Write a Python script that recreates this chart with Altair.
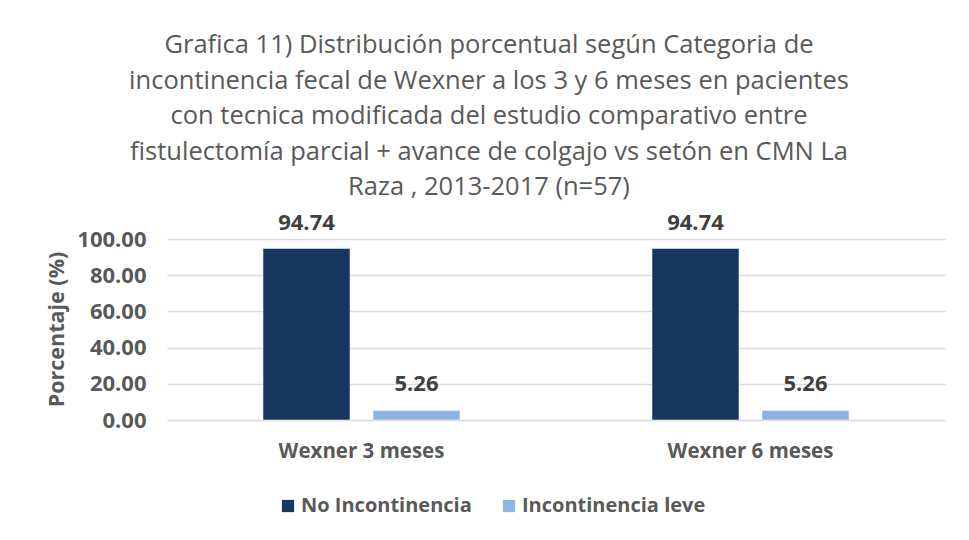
import altair as alt
import pandas as pd

categories = ["Wexner 3 meses", "Wexner 6 meses"]
series = ["No Incontinencia", "Incontinencia leve"]
values_no = [94.74, 94.74]
values_leve = [5.26, 5.26]
title_lines = [
    "Grafica 11) Distribución porcentual según Categoria de",
    "incontinencia fecal de Wexner a los 3 y 6 meses en pacientes",
    "con tecnica modificada del estudio comparativo entre",
    "fistulectomía parcial + avance de colgajo vs setón en CMN La",
    "Raza , 2013-2017 (n=57)",
]
colors = ["#17375E", "#8DB4E2"]

rows = []
for i, c in enumerate(categories):
    rows.append({"cat": c, "serie": series[0], "val": values_no[i]})
    rows.append({"cat": c, "serie": series[1], "val": values_leve[i]})
df = pd.DataFrame(rows)

FONT = "Open Sans"
GRAY = "#595959"

x_enc = alt.X("cat:N", sort=categories, title=None,
              scale=alt.Scale(paddingInner=0.4936, paddingOuter=0.2468),
              axis=alt.Axis(labelAngle=0, domain=False, ticks=False, labelPadding=21,
                            labelFont=FONT, labelFontSize=20.5, labelFontWeight="bold",
                            labelColor=GRAY))
xo_enc = alt.XOffset("serie:N", sort=series,
                     scale=alt.Scale(paddingInner=0.209, paddingOuter=0))
y_enc = alt.Y("val:Q", title="Porcentaje (%)",
              scale=alt.Scale(domain=[0, 100], nice=False),
              axis=alt.Axis(values=[0, 20, 40, 60, 80, 100], format=".2f",
                            domain=False, ticks=False, labelPadding=21,
                            labelFont=FONT, labelFontSize=22, labelFontWeight="bold",
                            labelColor=GRAY, gridColor="#D9D9D9", gridWidth=1.3,
                            titleFont=FONT, titleFontSize=21.5, titleFontWeight="bold",
                            titleColor=GRAY, titleX=-110, titleY=90,
                            titleAngle=-90, titleAlign="center", titleBaseline="middle"))
color_enc = alt.Color("serie:N", sort=series,
                      scale=alt.Scale(domain=series, range=colors),
                      legend=alt.Legend(title=None, orient="none", direction="horizontal",
                                        legendX=111, legendY=257,
                                        symbolType="square", symbolSize=150,
                                        symbolStrokeWidth=0, columnPadding=27,
                                        labelFont=FONT, labelFontSize=20,
                                        labelFontWeight="bold", labelColor=GRAY,
                                        labelOffset=3, labelLimit=400))

base = alt.Chart(df)
bars = base.mark_bar(stroke="white", strokeWidth=0.5).encode(
    x=x_enc, xOffset=xo_enc, y=y_enc, color=color_enc)
labels = base.mark_text(dy=-26, baseline="middle", font=FONT, fontSize=22,
                        fontWeight="bold", color="#404040").encode(
    x=x_enc, xOffset=xo_enc, y=y_enc, text=alt.Text("val:Q", format=".2f"))

chart = alt.layer(bars, labels).properties(
    width=778, height=181,
    autosize=alt.AutoSizeParams(type="none"),
    padding={"left": 159, "top": 231, "right": 16, "bottom": 113},
    title=alt.TitleParams(text=title_lines, font=FONT, fontSize=25.5, fontWeight="normal",
                          color=GRAY, lineHeight=35.5, anchor="middle", dx=-67, offset=11,
                          limit=900),
).configure_view(stroke=None)

chart.save("out.html", embed_options={"renderer": "svg", "actions": False})
